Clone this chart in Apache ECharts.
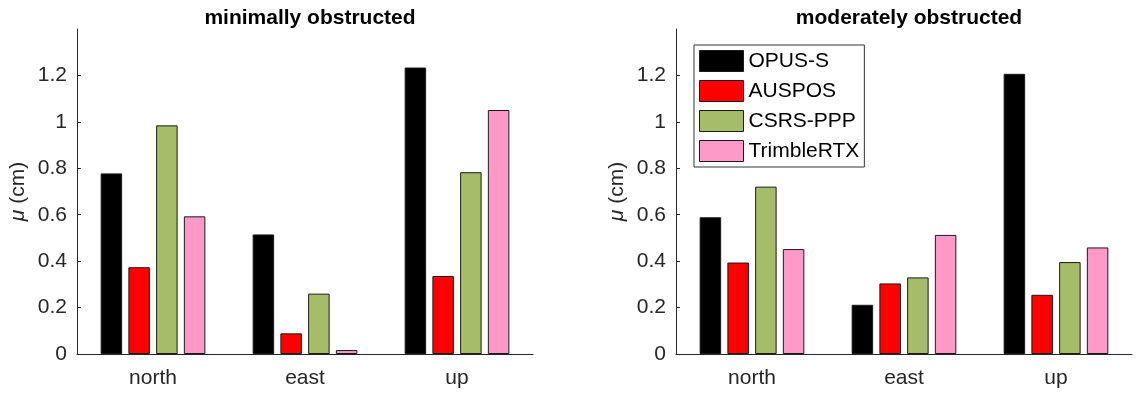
<!DOCTYPE html>
<html>
<head>
<meta charset="utf-8">
<script src="https://cdn.jsdelivr.net/npm/echarts@6/dist/echarts.min.js"></script>
<style>
html,body{margin:0;padding:0;background:#fff;}
#chart{width:1136px;height:396px;}
</style>
</head>
<body>
<div id="chart"></div>
<script>
const categories = ['north', 'east', 'up'];
const seriesNames = ['OPUS-S', 'AUSPOS', 'CSRS-PPP', 'TrimbleRTX'];
const panelTitles = ['minimally obstructed', 'moderately obstructed'];
const yTicks = [0, 0.2, 0.4, 0.6, 0.8, 1, 1.2];

// minimally obstructed
const minOPUS = [0.778, 0.515, 1.234];
const minAUSPOS = [0.374, 0.089, 0.336];
const minCSRS = [0.985, 0.260, 0.783];
const minTrimble = [0.593, 0.017, 1.051];

// moderately obstructed
const modOPUS = [0.589, 0.212, 1.207];
const modAUSPOS = [0.394, 0.304, 0.255];
const modCSRS = [0.721, 0.330, 0.396];
const modTrimble = [0.452, 0.513, 0.459];

const colors = ['#000000', '#ff0000', '#a5bd69', '#ff99c8'];
const FONT = '"Liberation Sans", Arial, sans-serif';
const AX = '#262626';
const FS = 21;

const panels = [
  [minOPUS, minAUSPOS, minCSRS, minTrimble],
  [modOPUS, modAUSPOS, modCSRS, modTrimble]
];
const gridLefts = [77, 676];

const option = {
  animation: false,
  backgroundColor: '#ffffff',
  textStyle: { fontFamily: FONT },
  title: panelTitles.map((t, i) => ({
    text: t,
    left: gridLefts[i] + 228,
    textAlign: 'center',
    top: 3,
    textStyle: { fontFamily: FONT, fontSize: FS, fontWeight: 'bold', color: '#000' }
  })),
  legend: {
    data: seriesNames,
    orient: 'vertical',
    left: 694,
    top: 45,
    icon: 'rect',
    itemWidth: 44,
    itemHeight: 21,
    itemGap: 8,
    padding: [5, 5, 5, 5],
    borderColor: '#333',
    borderWidth: 1,
    backgroundColor: '#fff',
    itemStyle: { borderWidth: 1, borderColor: '#1a1a1a' },
    textStyle: { fontFamily: FONT, fontSize: FS, color: '#000' }
  },
  grid: gridLefts.map(l => ({ left: l, width: 456, top: 29, height: 325 })),
  xAxis: gridLefts.map((l, i) => ({
    type: 'category',
    gridIndex: i,
    data: categories,
    boundaryGap: true,
    axisLine: { lineStyle: { color: AX, width: 1 } },
    axisTick: { inside: true, alignWithLabel: true, length: 3, lineStyle: { color: AX } },
    axisLabel: { fontFamily: FONT, fontSize: FS, color: AX, margin: 14 },
    splitLine: { show: false }
  })),
  yAxis: gridLefts.map((l, i) => ({
    type: 'value',
    gridIndex: i,
    min: 0,
    max: 1.4,
    interval: 0.2,
    name: '{i|μ} (cm)',
    nameLocation: 'middle',
    nameGap: 48,
    nameRotate: 90,
    nameTextStyle: {
      fontFamily: FONT, fontSize: FS, color: AX,
      rich: { i: { fontFamily: FONT, fontStyle: 'italic', fontSize: FS, color: AX } }
    },
    axisLine: { show: true, lineStyle: { color: AX, width: 1 } },
    axisTick: { show: true, inside: true, length: 4, lineStyle: { color: AX }, customValues: yTicks },
    axisLabel: { fontFamily: FONT, fontSize: FS, color: AX, margin: 10, customValues: yTicks,
      formatter: v => String(Math.round(v * 10) / 10) },
    splitLine: { show: false }
  })),
  series: []
};

panels.forEach((set, p) => {
  set.forEach((vals, k) => {
    option.series.push({
      type: 'bar',
      name: seriesNames[k],
      xAxisIndex: p,
      yAxisIndex: p,
      data: vals,
      barWidth: 21.5,
      barGap: '29%',
      itemStyle: { color: colors[k], borderColor: '#1a1a1a', borderWidth: 1 },
      emphasis: { disabled: true }
    });
  });
});

const chart = echarts.init(document.getElementById('chart'), null, { renderer: 'canvas' });
chart.setOption(option);
</script>
</body>
</html>
